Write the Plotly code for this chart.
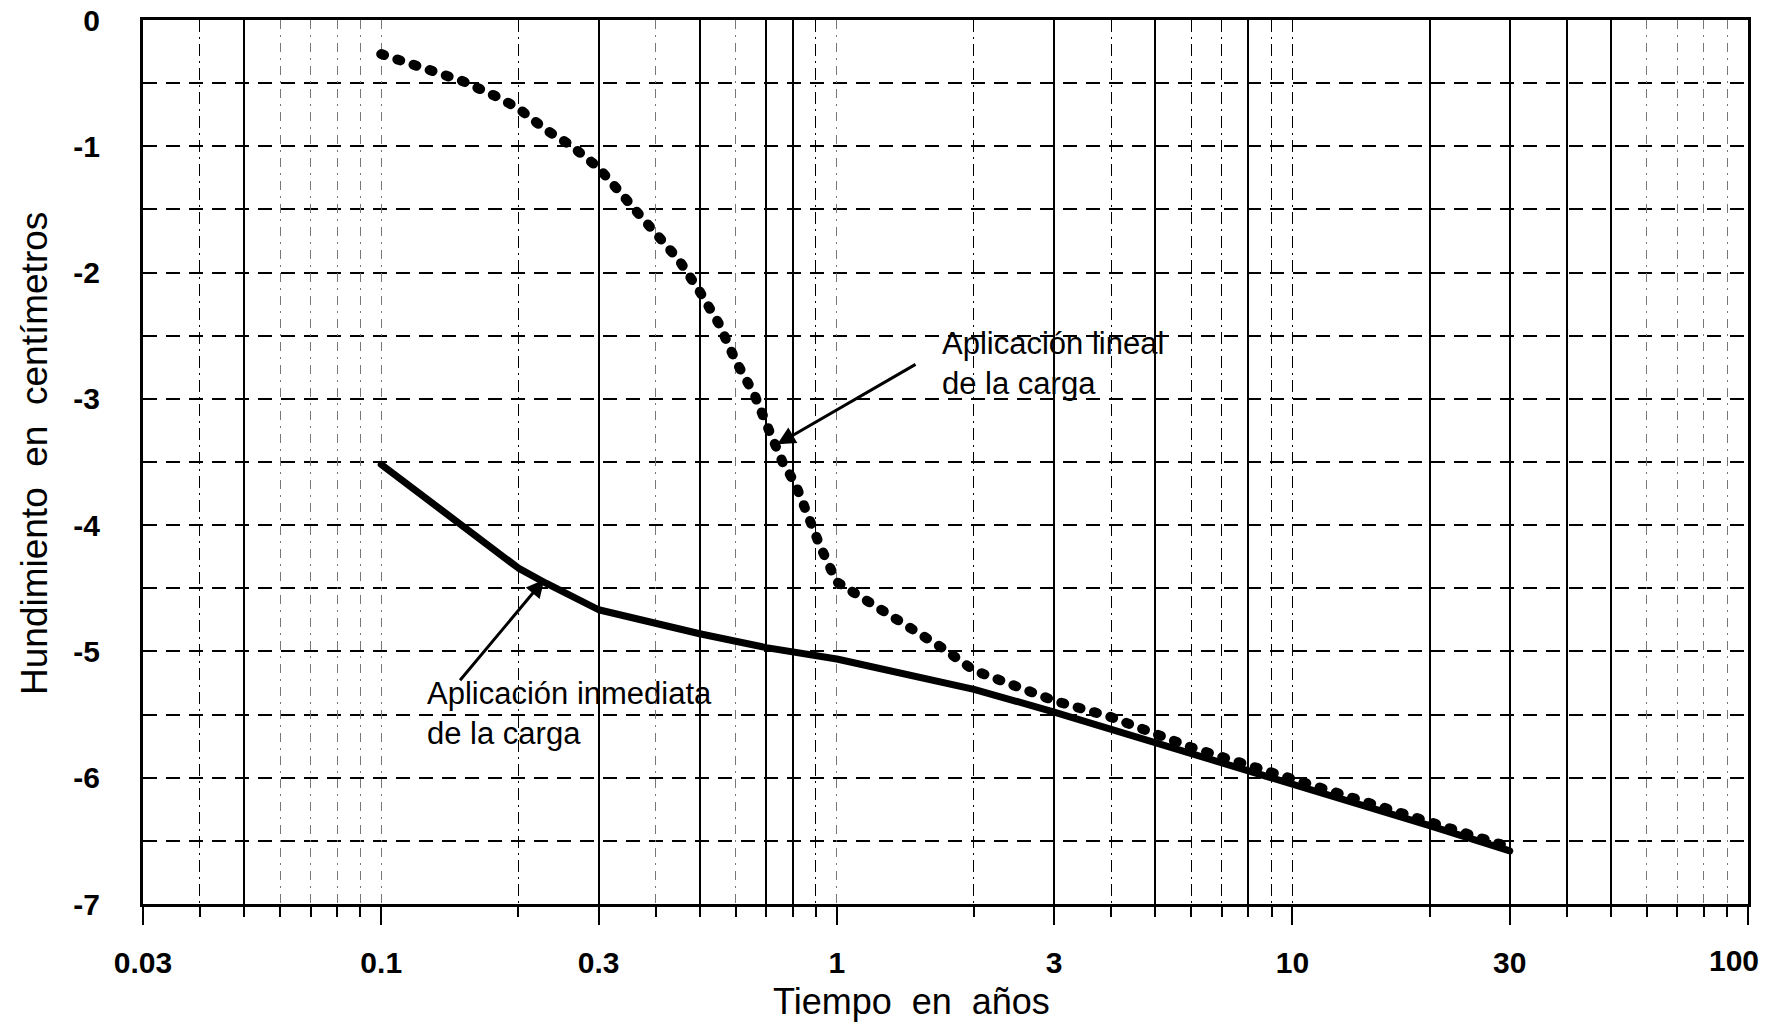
import math
import plotly.graph_objects as go

# ---------------- data ----------------
t_inmediata = [0.1, 0.15, 0.2, 0.23, 0.3, 0.5, 0.7, 1, 2, 3, 5, 10, 20, 30]
s_inmediata = [-3.52, -4.0, -4.34, -4.46, -4.67, -4.86, -4.97, -5.06, -5.30, -5.48, -5.72, -6.05, -6.38, -6.58]

t_lineal = [0.1, 0.12, 0.15, 0.18, 0.2, 0.23, 0.26, 0.3, 0.36, 0.41, 0.45, 0.5, 0.55, 0.6,
            0.66, 0.71, 0.76, 0.81, 0.86, 0.92, 1.0, 1.2, 1.42, 1.7, 2.0, 2.34, 3, 4, 5, 6,
            10, 20, 30]
s_lineal = [-0.27, -0.36, -0.48, -0.61, -0.70, -0.87, -0.99, -1.17, -1.50, -1.75, -1.90, -2.15,
            -2.40, -2.70, -2.97, -3.25, -3.50, -3.67, -3.91, -4.17, -4.45, -4.63, -4.78, -4.97,
            -5.15, -5.25, -5.39, -5.52, -5.65, -5.76, -6.01, -6.34, -6.55]

x_tick_vals = [0.03, 0.1, 0.3, 1, 3, 10, 30, 100]
x_tick_text = ["0.03", "0.1", "0.3", "1", "3", "10", "30", "100"]
x_minor_vals = [0.04, 0.05, 0.06, 0.07, 0.08, 0.09, 0.2, 0.4, 0.5, 0.6, 0.7, 0.8, 0.9,
                2, 4, 5, 6, 7, 8, 9, 20, 40, 50, 60, 70, 80, 90]
x_grid_solid = [0.05, 0.3, 0.5, 0.7, 0.8, 3, 5, 8, 20, 30, 40, 50]
x_grid_dashdot = [0.04, 0.2, 0.9, 2, 4, 6, 7, 9, 10]
x_grid_faint = [0.06, 0.07, 0.08, 0.09, 0.1, 0.4, 0.6, 1, 60, 70, 80, 90]

y_tick_vals = [0, -1, -2, -3, -4, -5, -6, -7]
y_tick_text = ["0", "-1", "-2", "-3", "-4", "-5", "-6", "-7"]
y_minor_vals = [-0.5, -1.5, -2.5, -3.5, -4.5, -5.5, -6.5]

label_lineal = "Aplicación lineal<br>de la carga"
label_inmediata = "Aplicación inmediata<br>de la carga"
x_title = "Tiempo\u00a0\u00a0en\u00a0\u00a0años"
y_title = "Hundimiento\u00a0\u00a0en\u00a0\u00a0centímetros"

# ---------------- figure ----------------
FONT = "Liberation Sans, Arial, sans-serif"
TICKFONT = dict(family=FONT, size=30, color="black", weight="bold")
xr = [math.log10(x_tick_vals[0]), math.log10(x_tick_vals[-1])]

fig = go.Figure()
fig.add_trace(go.Scatter(x=t_inmediata, y=s_inmediata, mode="lines",
                         line=dict(color="black", width=7), showlegend=False))
fig.add_trace(go.Scatter(x=t_lineal, y=s_lineal, mode="lines",
                         line=dict(color="black", width=10, dash="3px,14px"), showlegend=False))
# empty traces so the overlay axes are created
for ax in ["x2", "x3", "x4", "x5"]:
    fig.add_trace(go.Scatter(x=[], y=[], xaxis=ax, yaxis="y", showlegend=False,
                             hoverinfo="skip"))

def overlay_axis(vals, color, width, dash):
    return dict(type="log", range=xr, overlaying="x", anchor="y", side="bottom",
                tickvals=vals, showticklabels=False, ticks="", showgrid=True,
                gridcolor=color, gridwidth=width, griddash=dash, showline=False,
                zeroline=False, automargin=False, layer="below traces")

fig.update_layout(
    width=1771, height=1025,
    margin=dict(l=143, r=23, t=20, b=121, autoexpand=False),
    paper_bgcolor="white", plot_bgcolor="white",
    font=dict(family=FONT, color="black"),
    xaxis=dict(type="log", range=xr, tickvals=x_tick_vals,
               ticktext=x_tick_text[:-1] + [""],
               ticks="outside", ticklen=18, tickwidth=2, tickcolor="black",
               showgrid=False, zeroline=False, showline=True, mirror=True,
               linewidth=3, linecolor="black", automargin=False,
               ticklabeloverflow="allow", tickfont=TICKFONT, ticklabelstandoff=12,
               minor=dict(tickvals=x_minor_vals, ticks="outside", ticklen=10,
                          tickwidth=1.5, tickcolor="black", showgrid=False)),
    xaxis2=overlay_axis(x_grid_solid, "black", 1.6, "solid"),
    xaxis3=overlay_axis(x_grid_dashdot, "black", 1.4, "12px,5px,2px,5px"),
    xaxis4=overlay_axis(x_grid_faint, "#777777", 1.1, "9px,6px,2px,6px"),
    # last tick label, nudged left so it stays inside the page
    xaxis5=dict(type="log", range=xr, overlaying="x", anchor="y", side="bottom",
                tickvals=x_tick_vals[-1:], ticktext=x_tick_text[-1:],
                ticks="outside", ticklen=18, tickcolor="rgba(0,0,0,0)",
                showgrid=False, showline=False, zeroline=False, automargin=False,
                ticklabeloverflow="allow", tickfont=TICKFONT, ticklabelstandoff=12,
                ticklabelshift=-14),
    yaxis=dict(range=[-7, 0], tickvals=y_tick_vals, ticktext=y_tick_text, ticks="",
               showgrid=True, gridcolor="black", gridwidth=1.5, griddash="14px,9px",
               zeroline=False, showline=True, mirror=True, linewidth=3, linecolor="black",
               automargin=False, ticklabeloverflow="allow", tickfont=TICKFONT,
               ticklabelstandoff=34,
               minor=dict(tickvals=y_minor_vals, ticks="", showgrid=True,
                          gridcolor="black", gridwidth=1.5, griddash="14px,9px")),
)

# arrows
fig.add_annotation(x=math.log10(0.74), y=-3.36, ax=math.log10(1.50), ay=-2.72,
                   axref="x", ayref="y", xref="x", yref="y", text="", showarrow=True,
                   arrowhead=2, arrowsize=1.2, arrowwidth=3, arrowcolor="black")
fig.add_annotation(x=math.log10(0.228), y=-4.43, ax=math.log10(0.148), ay=-5.24,
                   axref="x", ayref="y", xref="x", yref="y", text="", showarrow=True,
                   arrowhead=2, arrowsize=1.2, arrowwidth=3, arrowcolor="black")
# labels
fig.add_annotation(x=math.log10(1.687), y=-2.72, xref="x", yref="y", text=label_lineal,
                   showarrow=False, xanchor="left", yanchor="middle", align="left",
                   font=dict(family=FONT, size=31, color="black"))
fig.add_annotation(x=math.log10(0.125), y=-5.49, xref="x", yref="y", text=label_inmediata,
                   showarrow=False, xanchor="left", yanchor="middle", align="left",
                   font=dict(family=FONT, size=31, color="black"))
# axis titles
fig.add_annotation(x=0.479, y=0, xref="paper", yref="paper", yshift=-97, text=x_title,
                   showarrow=False, xanchor="center", yanchor="middle",
                   font=dict(family=FONT, size=36, color="black"))
fig.add_annotation(x=0, y=0.5, xref="paper", yref="paper", xshift=-109, yshift=8,
                   text=y_title, textangle=-90, showarrow=False,
                   xanchor="center", yanchor="middle",
                   font=dict(family=FONT, size=37, color="black"))

fig.write_html("out.html", config={"displayModeBar": False}, post_script=(
    "document.body.style.margin='0';"
    "document.querySelectorAll('.scatterlayer path.js-line').forEach(function(p){"
    "p.style.strokeLinecap='round';p.style.strokeLinejoin='round';});"))
